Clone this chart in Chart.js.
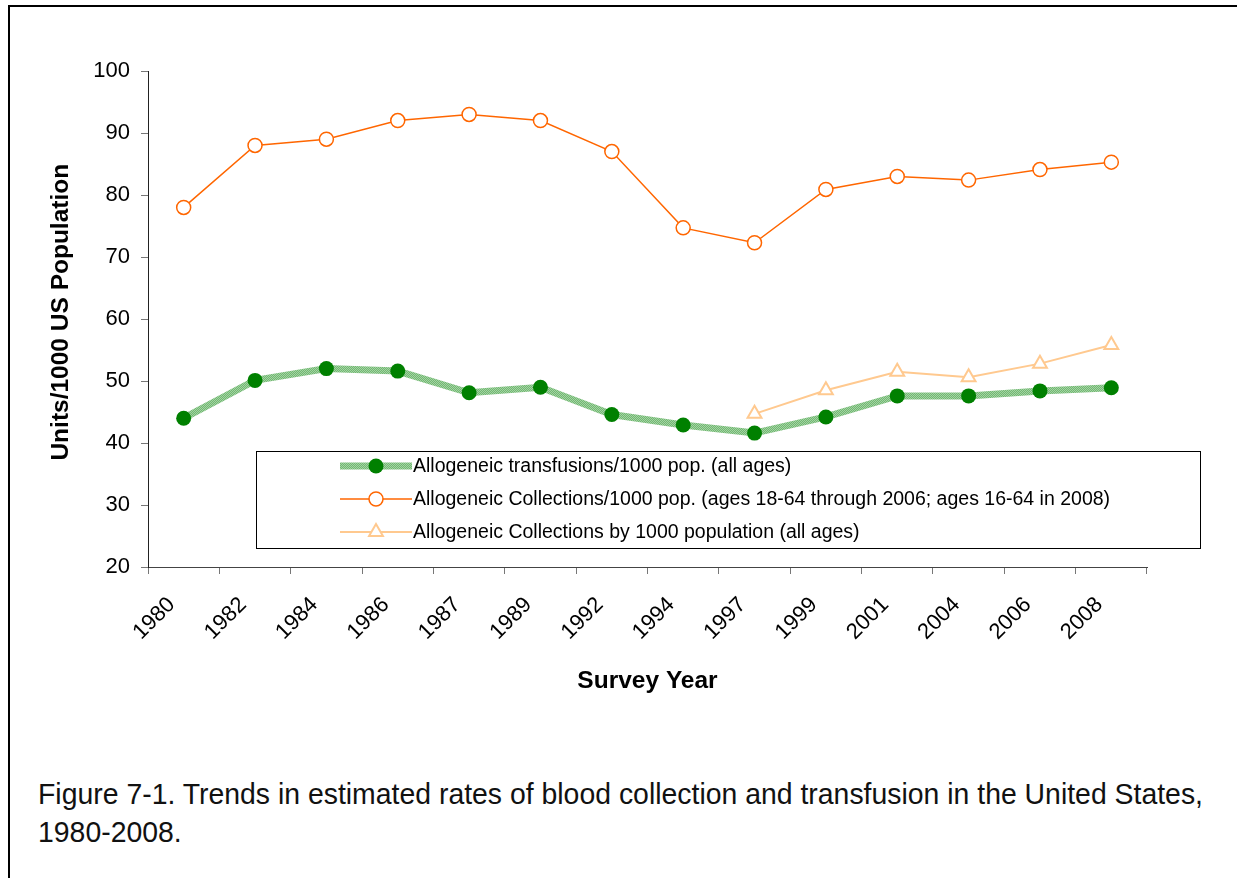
<!DOCTYPE html>
<html>
<head>
<meta charset="utf-8">
<script src="https://cdn.jsdelivr.net/npm/chart.js@4.4.1/dist/chart.umd.min.js"></script>
<style>
    html, body { margin: 0; padding: 0; background: #fff; overflow: hidden; }
    body { width: 1237px; height: 878px; position: relative; }
    .frame { position: absolute; left: 8px; top: 5px; width: 1400px; height: 1000px; border: 2px solid #000; }
    .chart-wrap { position: absolute; left: 0; top: 0; width: 1237px; height: 700px; }
    .caption {
        position: absolute; left: 38px; top: 775px;
        font-family: 'Liberation Sans', Arial, sans-serif;
        font-size: 30px; line-height: 38px; color: #111; white-space: nowrap;
        transform-origin: 0 0;
    }
</style>
</head>
<body>
<div class="frame"></div>
<div class="chart-wrap"><canvas id="chart"></canvas></div>
<div class="caption" id="caption"><span id="cap1">Figure 7-1. Trends in estimated rates of blood collection and transfusion in the United States,</span><br>1980-2008.</div>

<script>
// ===== data =====
const years = ['1980', '1982', '1984', '1986', '1987', '1989', '1992', '1994', '1997', '1999', '2001', '2004', '2006', '2008'];
const transfusions = [44.0, 50.1, 52.0, 51.6, 48.1, 49.0, 44.6, 42.9, 41.6, 44.2, 47.6, 47.6, 48.4, 48.9];
const collections1864 = [78.0, 88.0, 89.0, 92.0, 93.0, 92.0, 87.0, 74.7, 72.3, 80.9, 83.0, 82.4, 84.1, 85.3];
const collectionsAll = [null, null, null, null, null, null, null, null, 44.7, 48.5, 51.5, 50.6, 52.8, 55.8];
const yTicks = [20, 30, 40, 50, 60, 70, 80, 90, 100];

const seriesLabels = [
    'Allogeneic transfusions/1000 pop. (all ages)',
    'Allogeneic Collections/1000 pop. (ages 18-64 through 2006; ages 16-64 in 2008)',
    'Allogeneic Collections by 1000 population (all ages)'
];

const FONT = "'Liberation Sans', Arial, sans-serif";
const GREEN = '#008000';
const ORANGE = '#ff6600';
const PALE = '#ffc98f';

// caption uses a condensed face in the original; squeeze Liberation Sans to the same width
(function fitCaption() {
    const cap = document.getElementById('caption');
    const w = document.getElementById('cap1').getBoundingClientRect().width;
    cap.style.transform = 'scaleX(' + (1165 / w) + ')';
})();

// hatched light-green texture for the thick transfusion line
function makeHatch() {
    const c = document.createElement('canvas');
    c.width = 2; c.height = 2;
    const g = c.getContext('2d');
    g.fillStyle = '#72b872'; g.fillRect(0, 0, 2, 2);
    g.fillStyle = '#a3d3a3'; g.fillRect(0, 0, 1, 1); g.fillRect(1, 1, 1, 1);
    return g.createPattern(c, 'repeat');
}
const hatch = makeHatch();

// legend box sitting inside the plot, as in the original
const boxLegend = {
    id: 'boxLegend',
    afterDatasetsDraw(chart) {
        const { ctx, chartArea: a } = chart;
        const x0 = a.left + 108, y0 = a.top + 380, w = 944, h = 97;
        ctx.save();
        ctx.fillStyle = '#fff';
        ctx.fillRect(x0, y0, w, h);
        ctx.strokeStyle = '#000';
        ctx.lineWidth = 1;
        ctx.strokeRect(x0 + 0.5, y0 + 0.5, w, h);
        ctx.font = '19.5px ' + FONT;
        ctx.textBaseline = 'middle';
        chart.data.datasets.forEach((ds, i) => {
            const cy = y0 + 15 + i * 33;
            const sx = x0 + 84, ex = x0 + 156, mx = (sx + ex) / 2;
            ctx.strokeStyle = ds.borderColor;
            ctx.lineWidth = ds.borderWidth;
            ctx.beginPath(); ctx.moveTo(sx, cy); ctx.lineTo(ex, cy); ctx.stroke();
            ctx.fillStyle = ds.pointBackgroundColor;
            ctx.strokeStyle = ds.pointBorderColor;
            ctx.lineWidth = ds.pointBorderWidth;
            Chart.helpers.drawPoint(ctx, {
                pointStyle: ds.pointStyle,
                radius: ds.pointRadius,
                borderWidth: ds.pointBorderWidth,
                rotation: 0
            }, mx, cy);
            ctx.fillStyle = '#000';
            ctx.fillText(ds.label, ex + 1, cy + 1);
        });
        ctx.restore();
    }
};

new Chart(document.getElementById('chart'), {
    type: 'line',
    data: {
        labels: years,
        datasets: [
            {
                label: seriesLabels[0],
                data: transfusions,
                borderColor: hatch,
                borderWidth: 7,
                pointStyle: 'circle',
                pointRadius: 7.5,
                pointBorderWidth: 0,
                pointBackgroundColor: GREEN,
                pointBorderColor: GREEN,
                order: 0
            },
            {
                label: seriesLabels[1],
                data: collections1864,
                borderColor: ORANGE,
                borderWidth: 1.5,
                pointStyle: 'circle',
                pointRadius: 7,
                pointBorderWidth: 1.5,
                pointBackgroundColor: '#fff',
                pointBorderColor: ORANGE,
                order: 1
            },
            {
                label: seriesLabels[2],
                data: collectionsAll,
                borderColor: PALE,
                borderWidth: 2,
                pointStyle: 'triangle',
                pointRadius: 8,
                pointBorderWidth: 2,
                pointBackgroundColor: '#fff',
                pointBorderColor: PALE,
                order: 2
            }
        ]
    },
    options: {
        responsive: true,
        maintainAspectRatio: false,
        animation: false,
        layout: { padding: { top: 71, right: 90, left: 0, bottom: 0 } },
        plugins: {
            legend: { display: false },
            tooltip: { enabled: false }
        },
        scales: {
            x: {
                offset: true,
                grid: { offset: true, drawOnChartArea: false, drawTicks: true, tickLength: 7, color: '#777' },
                border: { display: true, color: '#444', width: 1 },
                ticks: {
                    color: '#000', font: { family: FONT, size: 22 },
                    minRotation: 45, maxRotation: 45, autoSkip: false,
                    padding: 18, labelOffset: -12
                },
                title: {
                    display: true, text: 'Survey Year', color: '#000',
                    font: { family: FONT, size: 24.5, weight: 'bold' },
                    padding: { top: 0, bottom: 4 }
                },
                afterFit: (s) => { s.height = 133; }
            },
            y: {
                min: 20, max: 100,
                afterBuildTicks: (s) => { s.ticks = yTicks.map(v => ({ value: v })); },
                grid: { drawOnChartArea: false, drawTicks: true, tickLength: 7, color: '#777' },
                border: { display: true, color: '#222', width: 1 },
                ticks: { color: '#000', font: { family: FONT, size: 22 }, padding: 11 },
                title: {
                    display: true, text: '  Units/1000 US Population', color: '#000',
                    font: { family: FONT, size: 24.5, weight: 'bold' },
                    padding: { top: 47, bottom: 0 }
                },
                afterFit: (s) => { s.width = 148; }
            }
        }
    },
    plugins: [boxLegend]
});
</script>
</body>
</html>
